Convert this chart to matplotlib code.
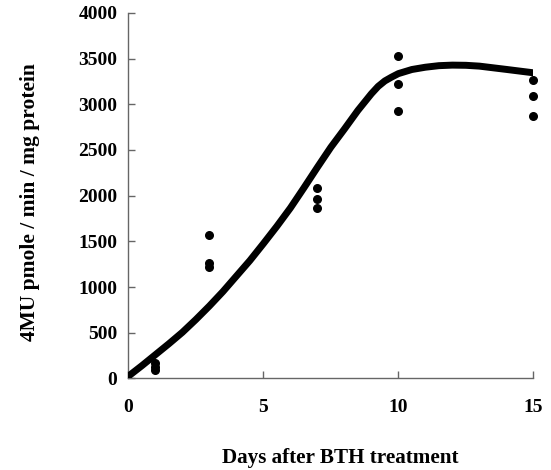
import matplotlib.pyplot as plt

# data
days_pts = [1, 1, 1, 3, 3, 3, 7, 7, 7, 10, 10, 10, 15, 15, 15]
activity_pts = [166, 130, 93, 1569, 1260, 1215, 2080, 1963, 1861,
                3530, 3220, 2928, 3264, 3094, 2870]

curve_days = [0, 0.5, 1, 1.5, 2, 2.5, 3, 3.5, 4, 4.5, 5, 5.5, 6, 6.5, 7, 7.5,
              8, 8.5, 9, 9.25, 9.5, 9.75, 10, 10.5, 11, 11.5, 12, 12.5, 13,
              14, 15]
curve_vals = [25, 140, 260, 380, 505, 645, 793, 950, 1120, 1290, 1475, 1665,
              1865, 2085, 2310, 2530, 2728, 2932, 3115, 3195, 3255, 3297,
              3335, 3380, 3405, 3422, 3428, 3426, 3417, 3381, 3344]

xticks = [0, 5, 10, 15]
yticks = [0, 500, 1000, 1500, 2000, 2500, 3000, 3500, 4000]

plt.rcParams['font.family'] = ['Liberation Serif', 'DejaVu Serif']
plt.rcParams['font.weight'] = 'bold'

fig = plt.figure(figsize=(5.51, 4.70), dpi=100)
ax = fig.add_axes([0.233, 0.1947, 0.735, 0.778])

ax.plot(curve_days, curve_vals, color='black', lw=5, solid_capstyle='round',
        solid_joinstyle='round', zorder=3)
ax.scatter(days_pts, activity_pts, s=30, color='black', zorder=4, clip_on=False)

ax.set_xlim(0, 15)
ax.set_ylim(0, 4000)
ax.set_xticks(xticks)
ax.set_yticks(yticks)
ax.tick_params(axis='both', direction='in', length=5, width=1, color='#666666',
               labelsize=14)
ax.tick_params(axis='x', pad=15)
ax.tick_params(axis='y', pad=8)

for s in ['top', 'right']:
    ax.spines[s].set_visible(False)
for s in ['left', 'bottom']:
    ax.spines[s].set_color('#666666')
    ax.spines[s].set_linewidth(1)

fig.text(0.617, 0.025, 'Days after BTH treatment', ha='center', va='center',
         fontsize=15.2, fontweight='bold')
fig.text(0.055, 0.57, '4MU pmole / min / mg protein', ha='center', va='center',
         rotation=90, fontsize=15.5, fontweight='bold')

fig.savefig('out.png', dpi=100)
